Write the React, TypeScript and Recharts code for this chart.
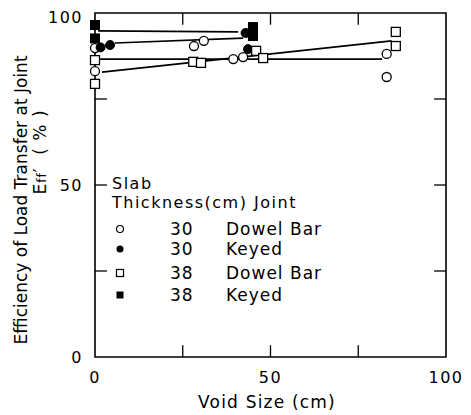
import React from "react";
import {
  ComposedChart,
  Scatter,
  XAxis,
  YAxis,
  ReferenceArea,
  ReferenceLine,
} from "recharts";

// measured points (void size cm, efficiency %)
const dowel30 = [
  { x: 0, y: 89.8 },
  { x: 0, y: 83.1 },
  { x: 28.2, y: 90.4 },
  { x: 31, y: 91.9 },
  { x: 39.4, y: 86.6 },
  { x: 42.2, y: 87.2 },
  { x: 83.1, y: 88.1 },
  { x: 83.1, y: 81.4 },
];
const keyed30 = [
  { x: 1.6, y: 90.0 },
  { x: 4.3, y: 90.7 },
  { x: 42.9, y: 94.2 },
  { x: 43.6, y: 89.5 },
];
const dowel38 = [
  { x: 0, y: 86.3 },
  { x: 0, y: 79.4 },
  { x: 28, y: 85.8 },
  { x: 30.2, y: 85.5 },
  { x: 45.9, y: 89.0 },
  { x: 47.9, y: 86.9 },
  { x: 85.7, y: 94.5 },
  { x: 85.7, y: 90.4 },
];
const keyed38 = [
  { x: 0, y: 96.5 },
  { x: 0, y: 92.6 },
  { x: 45, y: 95.9 },
  { x: 45, y: 93.3 },
];

// fitted lines
const fitKeyed38 = [
  { x: 0.9, y: 94.8 },
  { x: 40.8, y: 94.5 },
];
const fitKeyed30 = [
  { x: 5.7, y: 91.3 },
  { x: 42.2, y: 92.7 },
];
const fitFlat = [
  { x: 1.4, y: 86.6 },
  { x: 81.8, y: 86.6 },
];
const fitSloped = [
  { x: 2, y: 82.8 },
  { x: 84.5, y: 91.9 },
];

const labelTicks = [0, 50, 100];
const innerTicks = [25, 50, 75];

const font = "'DejaVu Sans', sans-serif";

const OpenCircle = (p: any) => (
  <circle cx={p.cx} cy={p.cy} r={4.5} fill="#fff" stroke="#000" strokeWidth={1.3} />
);
const FilledCircle = (p: any) => (
  <circle cx={p.cx} cy={p.cy} r={4.5} fill="#000" stroke="#000" strokeWidth={1} />
);
const OpenSquare = (p: any) => (
  <rect x={p.cx - 4.5} y={p.cy - 4.5} width={9} height={9} fill="#fff" stroke="#000" strokeWidth={1.3} />
);
const FilledSquare = (p: any) => (
  <rect x={p.cx - 4.5} y={p.cy - 4.5} width={9} height={9} fill="#000" stroke="#000" strokeWidth={1} />
);
const NoDot = () => <g />;

const legendRows = [
  { shape: "oc", thick: "30", joint: "Dowel Bar", top: 213 },
  { shape: "fc", thick: "30", joint: "Keyed", top: 233 },
  { shape: "os", thick: "38", joint: "Dowel Bar", top: 257 },
  { shape: "fs", thick: "38", joint: "Keyed", top: 279 },
];

function LegendMark({ shape }: { shape: string }) {
  return (
    <svg width={12} height={12} style={{ display: "block" }}>
      {shape === "oc" && <circle cx={6} cy={6} r={3.5} fill="#fff" stroke="#000" strokeWidth={1.2} />}
      {shape === "fc" && <circle cx={6} cy={6} r={3.5} fill="#000" />}
      {shape === "os" && <rect x={2.5} y={2.5} width={7} height={7} fill="#fff" stroke="#000" strokeWidth={1.2} />}
      {shape === "fs" && <rect x={2.5} y={2.5} width={7} height={7} fill="#000" />}
    </svg>
  );
}

const txt = { fontSize: 17, letterSpacing: 1, lineHeight: "16px" };
const head = { fontSize: 16, letterSpacing: 1.5, lineHeight: "16px" };

export default function App() {
  const tickStyle = { fill: "#000", fontSize: 16, fontFamily: font, letterSpacing: 1.5 };
  return (
    <div style={{ position: "relative", width: 463, height: 407, fontFamily: font, color: "#000", background: "#fff" }}>
      <ComposedChart
        width={463}
        height={407}
        margin={{ top: 5, right: 25, bottom: 0, left: 0 }}
      >
        <XAxis
          type="number"
          dataKey="x"
          domain={[0, 100]}
          ticks={labelTicks}
          axisLine={false}
          tickLine={false}
          tickMargin={9}
          height={58}
          tick={tickStyle}
        />
        <YAxis
          type="number"
          dataKey="y"
          domain={[0, 100]}
          ticks={labelTicks}
          axisLine={false}
          tickLine={false}
          tickMargin={6}
          width={87}
          tick={tickStyle}
        />
        <ReferenceArea x1={0} x2={100} y1={0} y2={100} fill="none" stroke="#000" strokeWidth={1.6} />
        {innerTicks.map((t) => (
          <ReferenceLine key={"b" + t} segment={[{ x: t, y: 0 }, { x: t, y: 3.4 }]} stroke="#000" strokeWidth={1.3} />
        ))}
        {innerTicks.map((t) => (
          <ReferenceLine key={"t" + t} segment={[{ x: t, y: 100 }, { x: t, y: 96.6 }]} stroke="#000" strokeWidth={1.3} />
        ))}
        {innerTicks.map((t) => (
          <ReferenceLine key={"l" + t} segment={[{ x: 0, y: t }, { x: 3.4, y: t }]} stroke="#000" strokeWidth={1.3} />
        ))}
        {innerTicks.map((t) => (
          <ReferenceLine key={"r" + t} segment={[{ x: 100, y: t }, { x: 96.6, y: t }]} stroke="#000" strokeWidth={1.3} />
        ))}
        <Scatter data={fitKeyed38} line={{ stroke: "#000", strokeWidth: 1.6 }} shape={NoDot} isAnimationActive={false} />
        <Scatter data={fitKeyed30} line={{ stroke: "#000", strokeWidth: 1.6 }} shape={NoDot} isAnimationActive={false} />
        <Scatter data={fitFlat} line={{ stroke: "#000", strokeWidth: 1.6 }} shape={NoDot} isAnimationActive={false} />
        <Scatter data={fitSloped} line={{ stroke: "#000", strokeWidth: 1.6 }} shape={NoDot} isAnimationActive={false} />
        <Scatter data={dowel30} shape={OpenCircle} isAnimationActive={false} />
        <Scatter data={keyed30} shape={FilledCircle} isAnimationActive={false} />
        <Scatter data={dowel38} shape={OpenSquare} isAnimationActive={false} />
        <Scatter data={keyed38} shape={FilledSquare} isAnimationActive={false} />
      </ComposedChart>

      {/* y axis title */}
      <div
        style={{
          ...txt,
          lineHeight: "18px",
          position: "absolute",
          left: 13,
          top: 192,
          transform: "translate(-50%, -50%) rotate(-90deg)",
          whiteSpace: "nowrap",
          letterSpacing: 0,
        }}
      >
        Efficiency of Load Transfer at Joint
      </div>
      <div
        style={{
          ...txt,
          lineHeight: "18px",
          position: "absolute",
          left: 33,
          top: 144,
          transform: "translate(-50%, -50%) rotate(-90deg)",
          whiteSpace: "nowrap",
        }}
      >
        E<span style={{ fontSize: 12 }}>ff</span>′ &nbsp;( % )
      </div>

      {/* x axis title */}
      <div
        style={{
          ...txt,
          lineHeight: "18px",
          position: "absolute",
          left: 259,
          top: 394,
          transform: "translate(-50%, -50%)",
          whiteSpace: "nowrap",
          letterSpacing: 1.2,
        }}
      >
        Void Size (cm)
      </div>

      {/* legend */}
      <div style={{ ...head, position: "absolute", left: 104, top: 168 }}>Slab</div>
      <div style={{ ...head, position: "absolute", left: 104, top: 187, whiteSpace: "nowrap" }}>
        Thickness(cm) Joint
      </div>
      {legendRows.map((r) => (
        <React.Fragment key={r.shape}>
          <div style={{ position: "absolute", left: 106, top: r.top + 2 }}>
            <LegendMark shape={r.shape} />
          </div>
          <div style={{ ...txt, position: "absolute", left: 162, top: r.top }}>{r.thick}</div>
          <div style={{ ...txt, position: "absolute", left: 218, top: r.top, whiteSpace: "nowrap" }}>
            {r.joint}
          </div>
        </React.Fragment>
      ))}
    </div>
  );
}
